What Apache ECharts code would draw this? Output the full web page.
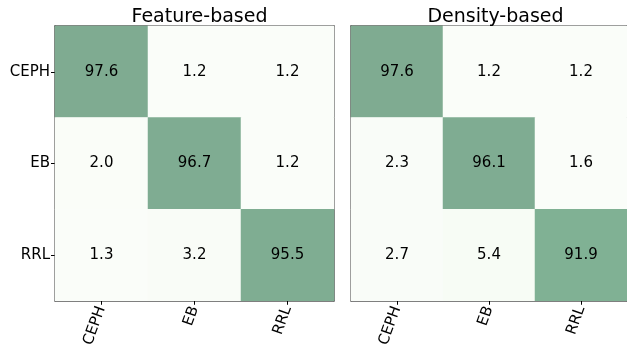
<!DOCTYPE html>
<html>
<head>
<meta charset="utf-8">
<script src="https://cdn.jsdelivr.net/npm/echarts@6/dist/echarts.min.js"></script>
<style>
  html, body { margin: 0; padding: 0; background: #fff; }
  #chart { width: 627px; height: 350px; }
</style>
</head>
<body>
<div id="chart"></div>
<script>
// Class labels (rows = true class, columns = predicted class)
const classes = ['CEPH', 'EB', 'RRL'];
const panelTitles = ['Feature-based', 'Density-based'];

// Confusion matrices in percent, one row per true class
const featureBased = [
  [97.6, 1.2, 1.2],
  [2.0, 96.7, 1.2],
  [1.3, 3.2, 95.5]
];
const densityBased = [
  [97.6, 1.2, 1.2],
  [2.3, 96.1, 1.6],
  [2.7, 5.4, 91.9]
];

// Greens ramp washed half-way toward white
const cellColors = ['#fbfdfa', '#f2faef', '#e3f4e0', '#d0eccd', '#bae2bb',
                    '#a0d5ae', '#91c5a2', '#80b696', '#7fa890'];

const FONT = 'DejaVu Sans';
const SPINE = '#555555';
const gridBoxes = [
  { left: 55, top: 26, width: 279, height: 279 },
  { left: 351, top: 26, width: 279, height: 279 }
];

function toCells(matrix) {
  const out = [];
  matrix.forEach((row, r) => row.forEach((v, c) => out.push([c, r, v])));
  return out;
}

const xAxes = [], yAxes = [], series = [], titles = [];
[featureBased, densityBased].forEach((m, i) => {
  const box = gridBoxes[i];
  titles.push({
    text: panelTitles[i],
    left: box.left + box.width / 2,
    top: 3,
    textAlign: 'center',
    textStyle: { fontFamily: FONT, fontSize: 19, fontWeight: 'normal', color: '#000' }
  });
  // bottom axis with rotated labels, ticks outside
  xAxes.push({
    type: 'category', data: classes, gridIndex: i, position: 'bottom',
    axisLine: { show: true, lineStyle: { color: SPINE, width: 1.5 } },
    axisTick: { show: true, alignWithLabel: true, length: 4, lineStyle: { color: '#000' } },
    axisLabel: { rotate: 70, margin: 6, fontFamily: FONT, fontSize: 15, color: '#000' },
    splitLine: { show: false }
  });
  // top frame edge, ticks inside
  xAxes.push({
    type: 'category', data: classes, gridIndex: i, position: 'top',
    axisLine: { show: true, lineStyle: { color: SPINE, width: 1.5 } },
    axisTick: { show: true, inside: true, alignWithLabel: true, length: 4, lineStyle: { color: '#000' } },
    axisLabel: { show: false }
  });
  // left axis; class labels only on the first panel
  yAxes.push({
    type: 'category', data: classes, gridIndex: i, position: 'left', inverse: true,
    axisLine: { show: true, lineStyle: { color: SPINE, width: 1.5 } },
    axisTick: { show: i === 0, alignWithLabel: true, length: 4, lineStyle: { color: '#000' } },
    axisLabel: { show: i === 0, margin: 5, fontFamily: FONT, fontSize: 15, color: '#000' },
    splitLine: { show: false }
  });
  // right frame edge, ticks inside
  yAxes.push({
    type: 'category', data: classes, gridIndex: i, position: 'right', inverse: true,
    axisLine: { show: true, lineStyle: { color: SPINE, width: 1.5 } },
    axisTick: { show: true, inside: true, alignWithLabel: true, length: 4, lineStyle: { color: '#000' } },
    axisLabel: { show: false }
  });
  series.push({
    type: 'heatmap',
    xAxisIndex: i * 2,
    yAxisIndex: i * 2,
    data: toCells(m),
    itemStyle: { borderWidth: 0 },
    label: {
      show: true,
      formatter: p => p.value[2].toFixed(1),
      fontFamily: FONT, fontSize: 15, color: '#000'
    },
    emphasis: { disabled: true },
    z: 1
  });
});

const chart = echarts.init(document.getElementById('chart'), null, { renderer: 'canvas' });
chart.setOption({
  animation: false,
  backgroundColor: '#ffffff',
  title: titles,
  grid: gridBoxes.map(b => Object.assign({ containLabel: false }, b)),
  xAxis: xAxes,
  yAxis: yAxes,
  visualMap: {
    show: false,
    min: 0,
    max: 100,
    seriesIndex: [0, 1],
    inRange: { color: cellColors }
  },
  series: series
});
</script>
</body>
</html>
